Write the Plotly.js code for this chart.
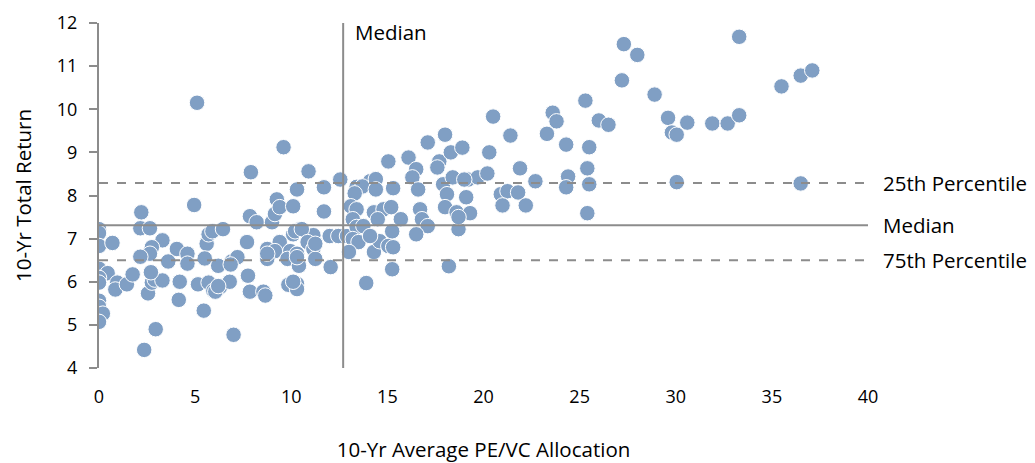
<!DOCTYPE html>
<html><head><meta charset="utf-8">
<script src="https://cdn.plot.ly/plotly-3.0.1.min.js"></script>
<style>body{margin:0;background:#fff}#chart{width:1035px;height:463px}</style>
</head><body><div id="chart"></div>
<script>
const allocation = [0,0,0,0.7,0,0.45,0,0,0,0,0.2,0,
0.95,0.85,1.45,1.75,
2.2,2.15,2.65,3.3,2.75,2.65,2.15,4.05,4.6,4.6,3.6,
2.55,2.75,2.9,3.3,2.7,4.2,4.15,
5.15,5.7,5.95,6.3,6.8,6.05,6.2,
7.75,7.85,8.55,8.65,
9.85,10.3,10.3,10.1,
2.95,5.45,2.35,7.0,
4.95,5.1,9.6,7.9,10.9,12.55,
5.6,5.7,5.9,6.45,5.5,6.2,6.9,7.2,6.85,
7.7,7.85,8.2,9.0,9.15,9.25,9.4,
8.75,9.4,9.15,8.75,8.75,9.95,
9.8,10.3,10.4,10.3,
10.3,10.1,11.7,11.7,
10.45,10.1,11.15,10.2,10.55,
10.85,11.15,11.25,11.25,
12.0,12.45,12.9,12.05,
13.6,14.1,13.4,13.7,13.3,14.4,14.4,15.3,
13.1,13.4,14.3,14.8,15.2,14.5,15.7,
16.7,16.8,17.1,16.5,
13.2,13.4,13.75,13.2,13.5,13.0,
14.3,14.6,15.05,15.3,15.25,14.1,
15.25,18.2,13.9,
15.05,16.1,16.5,16.3,16.6,17.1,17.7,17.6,18.0,18.3,18.9,
17.9,18.4,18.1,18.0,19.1,
19.2,19.7,20.2,19.0,
18.6,19.3,18.7,18.7,
20.3,20.5,21.4,21.9,22.7,
20.9,21.25,20.99,21.8,22.2,
23.3,23.6,23.8,25.3,26.0,26.5,24.3,25.5,25.4,24.4,24.3,25.5,25.4,
27.3,28.0,33.3,27.2,28.9,29.6,29.8,30.05,30.6,31.9,32.7,33.3,35.5,36.5,37.1,30.05,36.5];
const totalReturn = [7.22,7.13,6.83,6.9,6.3,6.2,6.09,5.98,5.56,5.42,5.26,5.07,
5.98,5.82,5.94,6.17,
7.61,7.24,7.24,6.96,6.8,6.65,6.58,6.76,6.65,6.42,6.47,
5.73,5.98,6.05,6.03,6.22,6.0,5.58,
5.94,5.98,5.79,5.88,6.0,5.77,5.9,
6.14,5.77,5.77,5.68,
5.93,5.95,5.83,6.0,
4.9,5.33,4.42,4.77,
7.78,10.15,9.12,8.54,8.56,8.37,
6.88,7.1,7.17,7.22,6.54,6.37,6.47,6.57,6.4,
6.92,7.52,7.38,7.38,7.57,7.91,7.73,
6.76,6.92,6.71,6.53,6.65,6.71,
6.53,6.65,6.37,6.57,
8.14,7.75,8.19,7.63,
7.22,7.1,7.08,7.17,7.22,
6.92,6.76,6.53,6.88,
7.06,7.06,7.06,6.34,
8.19,8.33,8.2,8.21,8.05,8.38,8.14,8.17,
7.75,7.68,7.61,7.68,7.73,7.45,7.45,
7.68,7.45,7.29,7.1,
7.45,7.27,7.29,6.99,6.92,6.69,
6.69,6.94,6.83,6.8,7.17,7.06,
6.29,6.36,5.97,
8.79,8.88,8.61,8.42,8.14,9.23,8.79,8.65,9.41,9.0,9.11,
8.26,8.42,8.03,7.73,7.96,
8.37,8.42,8.51,8.37,
7.61,7.59,7.22,7.5,
9.0,9.83,9.39,8.63,8.33,
8.03,8.10,7.77,8.07,7.77,
9.43,9.92,9.72,10.2,9.74,9.64,9.18,9.12,8.63,8.44,8.19,8.26,7.59,
11.51,11.26,11.68,10.67,10.34,9.8,9.46,9.41,9.69,9.67,9.67,9.86,10.53,10.78,10.9,8.31,8.28];

const medianX = 12.7;
const medianY = 7.31;
const pct25 = 8.29;
const pct75 = 6.5;
const lineLabels = ['25th Percentile', 'Median', '75th Percentile', 'Median'];

const FONT = '"Open Sans", sans-serif';
const gray = '#8c8c8c';

const trace = {
  type: 'scatter', mode: 'markers', x: allocation, y: totalReturn,
  marker: {size: 15.5, color: '#809fc4', line: {color: '#ffffff', width: 1}},
  hoverinfo: 'x+y', showlegend: false
};

const shapes = [
  {type:'line', xref:'x', yref:'y', x0:medianX, x1:medianX, y0:4, y1:12, line:{color:gray, width:2}},
  {type:'line', xref:'x', yref:'y', x0:0, x1:40, y0:medianY, y1:medianY, line:{color:gray, width:2}},
  {type:'line', xref:'x', yref:'y', x0:0, x1:40, y0:pct25, y1:pct25, line:{color:gray, width:2, dash:'dash'}},
  {type:'line', xref:'x', yref:'y', x0:0, x1:40, y0:pct75, y1:pct75, line:{color:gray, width:2, dash:'dash'}}
];

const annFont = {family: FONT, size: 20.5, color: '#000'};
const annotations = [
  {x:40, y:pct25, xref:'x', yref:'y', text:lineLabels[0], showarrow:false, xanchor:'left', xshift:13, font:annFont},
  {x:40, y:medianY, xref:'x', yref:'y', text:lineLabels[1], showarrow:false, xanchor:'left', xshift:13, font:annFont},
  {x:40, y:pct75, xref:'x', yref:'y', text:lineLabels[2], showarrow:false, xanchor:'left', xshift:13, font:annFont},
  {x:medianX, y:12, xref:'x', yref:'y', text:lineLabels[3], showarrow:false, xanchor:'left', yanchor:'top', xshift:10, yshift:7, font:annFont}
];

const layout = {
  width: 1035, height: 463,
  margin: {l: 99, r: 167, t: 23, b: 95},
  paper_bgcolor: '#fff', plot_bgcolor: '#fff',
  font: {family: FONT, size: 18, color: '#000'},
  xaxis: {
    range: [0, 40], tickvals: [0,5,10,15,20,25,30,35,40], showgrid: false, zeroline: false,
    showline: false, ticks: 'outside', ticklen: 12, tickcolor: 'rgba(0,0,0,0)',
    tickfont: {family: FONT, size: 18},
    title: {text: '10-Yr Average PE/VC Allocation', font: {family: FONT, size: 20.5}, standoff: 37}
  },
  yaxis: {
    range: [4, 12], dtick: 1, showgrid: false, zeroline: false,
    showline: true, linecolor: gray, linewidth: 2,
    ticks: 'outside', ticklen: 8, tickcolor: gray, tickwidth: 2,
    ticklabelstandoff: 8,
    tickfont: {family: FONT, size: 18},
    title: {text: '10-Yr Total Return', font: {family: FONT, size: 20.5}, standoff: 20}
  },
  shapes: shapes, annotations: annotations
};

Plotly.newPlot('chart', [trace], layout, {displayModeBar: false, staticPlot: true});
</script></body></html>
